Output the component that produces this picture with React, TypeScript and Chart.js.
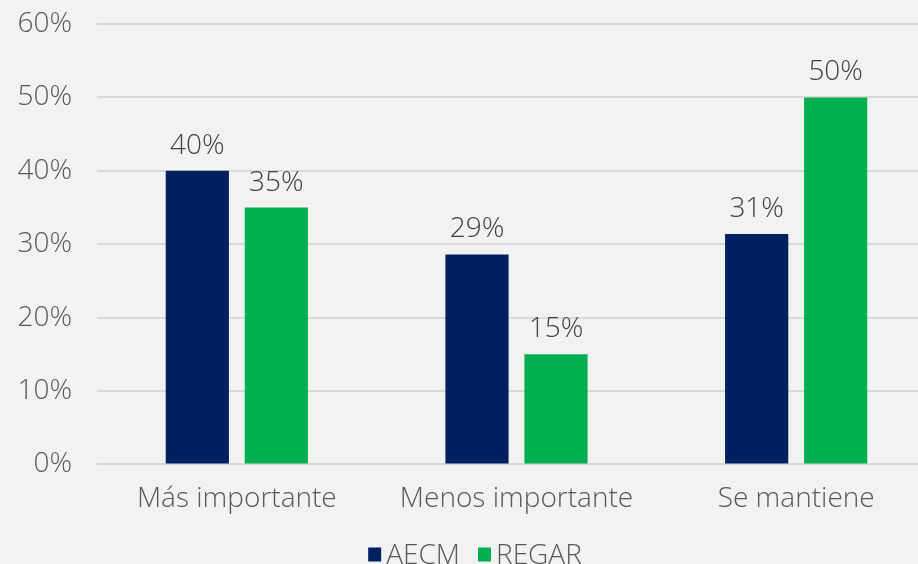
import React, { useEffect, useRef } from "react";
import { Chart, registerables } from "chart.js";

Chart.register(...registerables);

const categories = ["Más importante", "Menos importante", "Se mantiene"];
const aecmValues = [40, 28.6, 31.4];
const regarValues = [35, 15, 50];
const seriesNames = ["AECM", "REGAR"];
const seriesColors = ["#002060", "#00B050"];
const yTicks = [0, 10, 20, 30, 40, 50, 60];

const FONT = "'Open Sans', 'DejaVu Sans', sans-serif";
const TEXT = "#595959";
const FS = 28;
const CANVAS_W = 936;

const labelPlugin = {
  id: "barLabels",
  afterDatasetsDraw(chart: any) {
    const ctx = chart.ctx;
    ctx.save();
    ctx.font = `300 ${FS}px ${FONT}`;
    ctx.fillStyle = "#404040";
    ctx.textAlign = "center";
    ctx.textBaseline = "alphabetic";
    chart.data.datasets.forEach((ds: any, i: number) => {
      const meta = chart.getDatasetMeta(i);
      meta.data.forEach((bar: any, j: number) => {
        const v = ds.data[j];
        ctx.fillText(Math.round(v) + "%", bar.x, bar.y - 17);
      });
    });
    ctx.restore();
  },
};

const legendPlugin = {
  id: "customLegend",
  afterDraw(chart: any) {
    const ctx = chart.ctx;
    ctx.save();
    ctx.font = `300 ${FS}px ${FONT}`;
    const box = 13;
    const gap = 5;
    const spacing = 18;
    const widths = chart.data.datasets.map((ds: any) => box + gap + ctx.measureText(ds.label).width);
    const total = widths.reduce((a: number, b: number) => a + b, 0) + spacing * (widths.length - 1);
    let x = chart.width / 2 + 7 - total / 2;
    const cy = 554;
    chart.data.datasets.forEach((ds: any, i: number) => {
      ctx.fillStyle = ds.backgroundColor;
      ctx.fillRect(x, cy - box / 2, box, box + 1);
      ctx.fillStyle = TEXT;
      ctx.textAlign = "left";
      ctx.textBaseline = "alphabetic";
      ctx.fillText(ds.label, x + box + gap, cy + 10);
      x += widths[i] + spacing;
    });
    ctx.restore();
  },
};

export default function App() {
  const ref = useRef<HTMLCanvasElement | null>(null);
  useEffect(() => {
    document.body.style.margin = "0";
    document.body.style.background = "#F2F2F2";
    const chart = new Chart(ref.current!, {
      type: "bar",
      data: {
        labels: categories,
        datasets: [
          { label: seriesNames[0], data: aecmValues, backgroundColor: seriesColors[0], barPercentage: 0.8, categoryPercentage: 0.565 },
          { label: seriesNames[1], data: regarValues, backgroundColor: seriesColors[1], barPercentage: 0.8, categoryPercentage: 0.565 },
        ],
      },
      options: {
        animation: false,
        responsive: false,
        maintainAspectRatio: false,
        layout: { padding: { top: 24, right: 0, left: 10, bottom: 38 } },
        plugins: {
          tooltip: { enabled: false },
          legend: { display: false },
        },
        scales: {
          x: {
            grid: { display: false },
            border: { display: false },
            ticks: { color: TEXT, font: { family: FONT, size: FS, weight: 300 as any }, padding: 10 },
            afterFit: (axis: any) => {
              axis.paddingLeft = 0;
              axis.paddingRight = 0;
            },
          },
          y: {
            min: 0,
            max: 60,
            afterBuildTicks: (axis: any) => {
              axis.ticks = yTicks.map((v) => ({ value: v }));
            },
            afterFit: (axis: any) => {
              axis.width = 87;
              axis.paddingTop = 0;
              axis.paddingBottom = 0;
            },
            grid: { color: "#D9D9D9", lineWidth: 2, drawTicks: false },
            border: { display: false },
            ticks: {
              color: TEXT,
              font: { family: FONT, size: FS, weight: 300 as any },
              padding: 25,
              callback: (v: any) => v + "%",
            },
          },
        },
      },
      plugins: [labelPlugin, legendPlugin],
    });
    return () => chart.destroy();
  }, []);
  return (
    <div style={{ width: 918, height: 564, background: "#F2F2F2", overflow: "hidden" }}>
      <canvas ref={ref} width={CANVAS_W} height={564} style={{ display: "block" }} />
    </div>
  );
}
